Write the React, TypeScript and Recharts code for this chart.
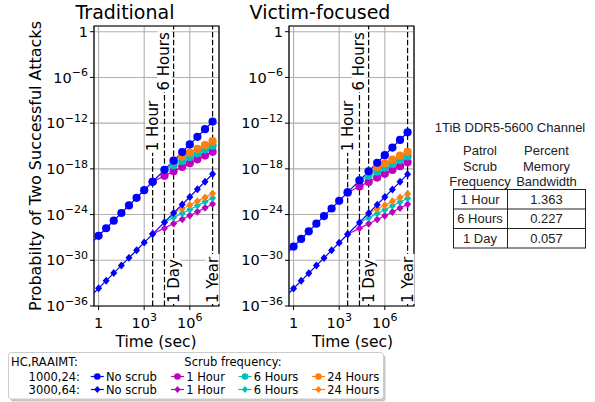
import React from 'react';
import { LineChart, Line, XAxis, YAxis, CartesianGrid, ReferenceLine, ReferenceArea } from 'recharts';

// ---- data ----
const timeSec = [0.316, 1, 3.16, 10, 31.6, 100, 316, 1000, 3600, 21600, 86400, 316000, 1e6, 3.16e6, 1e7, 3.15e7];
const xTicks = [1, 1e3, 1e6];
const yTicks = [1e-36, 1e-30, 1e-24, 1e-18, 1e-12, 1e-6, 1];
const xDomain = [0.501, 8.32e7];
const yDomain = [1e-36, 5.62];

const seriesNames = ['No scrub', '1 Hour', '6 Hours', '24 Hours'];
const seriesColors = ['#0000ff', '#bf00bf', '#00bfbf', '#ff7f0e'];
const configNames = ['1000,24:', '3000,64:'];

const N = null;
// Traditional, HC/RAAIMT 1000,24 (circles)
const tradNoScrub24 = [1.6e-28, 1.6e-27, 1.6e-26, 1.6e-25, 1.6e-24, 1.6e-23, 1.6e-22, 1.6e-21, 2.0e-20, 7.4e-19, 1.2e-17, 1.6e-16, 1.6e-15, 1.6e-14, 1.6e-13, 1.6e-12];
const tradHour24 = [N, N, N, N, N, N, N, N, 2.0e-20, 1.2e-19, 4.9e-19, 1.8e-18, 5.6e-18, 1.8e-17, 5.6e-17, 1.8e-16];
const tradSix24 = [N, N, N, N, N, N, N, N, N, 7.4e-19, 3.0e-18, 1.1e-17, 3.5e-17, 1.1e-16, 3.5e-16, 1.1e-15];
const tradDay24 = [N, N, N, N, N, N, N, N, N, N, 1.2e-17, 4.3e-17, 1.35e-16, 4.3e-16, 1.35e-15, 4.3e-15];
// Traditional, 3000,64 (diamonds)
const tradNoScrub64 = [2.1e-35, 2.1e-34, 2.1e-33, 2.1e-32, 2.1e-31, 2.1e-30, 2.1e-29, 2.1e-28, 2.75e-27, 1.0e-25, 1.6e-24, 2.1e-23, 2.1e-22, 2.1e-21, 2.1e-20, 2.1e-19];
const tradHour64 = [N, N, N, N, N, N, N, N, 2.75e-27, 1.66e-26, 6.6e-26, 2.4e-25, 7.6e-25, 2.4e-24, 7.6e-24, 2.4e-23];
const tradSix64 = [N, N, N, N, N, N, N, N, N, 1.0e-25, 4.0e-25, 1.5e-24, 4.7e-24, 1.5e-23, 4.7e-23, 1.5e-22];
const tradDay64 = [N, N, N, N, N, N, N, N, N, N, 1.6e-24, 5.8e-24, 1.8e-23, 5.8e-23, 1.8e-22, 5.8e-22];
// Victim-focused, 1000,24 (circles)
const vicNoScrub24 = [6.3e-30, 6.3e-29, 6.3e-28, 6.3e-27, 6.3e-26, 6.3e-25, 6.3e-24, 6.3e-23, 8.1e-22, 3.0e-20, 4.7e-19, 6.3e-18, 6.3e-17, 6.3e-16, 6.3e-15, 6.3e-14];
const vicHour24 = [N, N, N, N, N, N, N, N, 8.1e-22, 4.9e-21, 1.95e-20, 7.1e-20, 2.2e-19, 7.1e-19, 2.2e-18, 7.1e-18];
const vicSix24 = [N, N, N, N, N, N, N, N, N, 3.0e-20, 1.2e-19, 4.4e-19, 1.4e-18, 4.4e-18, 1.4e-17, 4.4e-17];
const vicDay24 = [N, N, N, N, N, N, N, N, N, N, 4.7e-19, 1.7e-18, 5.4e-18, 1.7e-17, 5.4e-17, 1.7e-16];
// Victim-focused, 3000,64 (diamonds)
const vicNoScrub64 = [2.0e-35, 2.0e-34, 2.0e-33, 2.0e-32, 2.0e-31, 2.0e-30, 2.0e-29, 2.0e-28, 2.6e-27, 9.3e-26, 1.5e-24, 2.0e-23, 2.0e-22, 2.0e-21, 2.0e-20, 2.0e-19];
const vicHour64 = [N, N, N, N, N, N, N, N, 2.6e-27, 1.55e-26, 6.2e-26, 2.2e-25, 7.1e-25, 2.2e-24, 7.1e-24, 2.2e-23];
const vicSix64 = [N, N, N, N, N, N, N, N, N, 9.3e-26, 3.7e-25, 1.4e-24, 4.4e-24, 1.4e-23, 4.4e-23, 1.4e-22];
const vicDay64 = [N, N, N, N, N, N, N, N, N, N, 1.5e-24, 5.4e-24, 1.7e-23, 5.4e-23, 1.7e-22, 5.4e-22];

const markTimes = [3600, 21600, 86400, 3.15e7];
const markLabels = ['1 Hour', '6 Hours', '1 Day', '1 Year'];
const markTops = [1e-9, 1, 5.62, 5.62];

const tableTitle = '1TiB DDR5-5600 Channel';
const tableHeadA = ['Patrol', 'Scrub', 'Frequency'];
const tableHeadB = ['Percent', 'Memory', 'Bandwidth'];
const tableFreq = ['1 Hour', '6 Hours', '1 Day'];
const tableBw = ['1.363', '0.227', '0.057'];

// ---- presentation ----
const FONT = "'DejaVu Sans', sans-serif";
const TFONT = "'Liberation Sans', Arial, sans-serif";
const labelLen: Record<string, number> = { '1 Hour': 51, '6 Hours': 59, '1 Day': 44, '1 Year': 48 };

const build = (vals: (number | null)[]) =>
  timeSec.map((t, i) => ({ t, p: vals[i] })).filter((d) => d.p != null);

const XTick = (props: any) => {
  const { x, y, payload } = props;
  const e = Math.round(Math.log10(payload.value));
  return (
    <text x={x} y={y + 15.5} textAnchor="middle" fontSize={14.5} fill="#000" fontFamily={FONT}>
      {e === 0 ? '1' : (<>10<tspan dy={-6.5} fontSize={11}>{String(e)}</tspan></>)}
    </text>
  );
};

const YTick = (props: any) => {
  const { x, y, payload } = props;
  const e = Math.round(Math.log10(payload.value));
  return (
    <text x={x} y={y + 5.2} textAnchor="end" fontSize={14.5} fill="#000" fontFamily={FONT}>
      {e === 0 ? '1' : (<>10<tspan dy={-6.5} fontSize={11}>{'\u2212' + Math.abs(e)}</tspan></>)}
    </text>
  );
};

const circleDot = (color: string, name: string) => (p: any) => {
  const k = `${name}-${p.index}`;
  if (p.cx == null || p.payload.t < 1) return <g key={k} />;
  return <circle key={k} cx={p.cx} cy={p.cy} r={4.1} fill={color} />;
};
const diamondDot = (color: string, name: string) => (p: any) => {
  const k = `${name}-${p.index}`;
  if (p.cx == null || p.payload.t < 1) return <g key={k} />;
  const { cx, cy } = p;
  return <polygon key={k} points={`${cx},${cy - 4} ${cx + 3.5},${cy} ${cx},${cy + 4} ${cx - 3.5},${cy}`} fill={color} />;
};

// draws the dashed segment (from the segment's own viewBox) plus its boxed, rotated label
const renderVLabel = (text: string, atTop: boolean) => (props: any) => {
  const vb = props.viewBox || {};
  const x = vb.x ?? 0;
  const top = vb.y ?? 0;
  const bottom = top + (vb.height ?? 0);
  const len = labelLen[text];
  const anchorY = atTop ? top + 0.5 : bottom - 3;
  const y0 = atTop ? anchorY - 1 : anchorY - len - 1;
  const y1 = atTop ? anchorY + len + 1 : anchorY + 1;
  return (
    <g>
      <line x1={x} x2={x} y1={bottom} y2={top} stroke="#000" strokeWidth={1.2} strokeDasharray="5.5 2.4" />
      <rect x={x - 7} y={y0} width={14} height={y1 - y0} fill="#fff" />
      <text transform={`translate(${x},${anchorY}) rotate(-90)`} textAnchor={atTop ? 'end' : 'start'}
        dominantBaseline="central" fontSize={15} fill="#000" fontFamily={FONT}>{text}</text>
    </g>
  );
};

function Panel({ left, circles, diamonds, id }: any) {
  const order = [1, 2, 3, 0];
  return (
    <div style={{ position: 'absolute', left, top: 0 }}>
      <LineChart width={230} height={360} margin={{ top: 26, right: 11, bottom: 0, left: 0 }}>
        <CartesianGrid stroke="#b0b0b0" strokeWidth={1.1} />
        <XAxis dataKey="t" type="number" scale="log" domain={xDomain} allowDataOverflow ticks={xTicks}
          interval={0} tick={(p: any) => <XTick {...p} />} tickSize={4} tickLine={{ stroke: '#000' }}
          axisLine={false} height={54} />
        <YAxis type="number" scale="log" domain={yDomain} allowDataOverflow ticks={yTicks}
          interval={0} tick={(p: any) => <YTick {...p} />} tickSize={4} tickLine={{ stroke: '#000' }}
          axisLine={false} width={94} />
        {markTimes.map((t, i) => (
          <ReferenceLine key={`m${i}`} segment={[{ x: t, y: yDomain[0] }, { x: t, y: markTops[i] }]}
            stroke="none" strokeWidth={0} ifOverflow="visible"
            label={renderVLabel(markLabels[i], i < 2)} />
        ))}
        {order.map((k) => (
          <Line key={`c${k}`} data={build(circles[k])} dataKey="p" stroke={seriesColors[k]} strokeWidth={1.2}
            dot={circleDot(seriesColors[k], `${id}c${k}`)} activeDot={false} isAnimationActive={false} />
        ))}
        {order.map((k) => (
          <Line key={`d${k}`} data={build(diamonds[k])} dataKey="p" stroke={seriesColors[k]} strokeWidth={1.2}
            dot={diamondDot(seriesColors[k], `${id}d${k}`)} activeDot={false} isAnimationActive={false} />
        ))}
        <ReferenceArea x1={xDomain[0]} x2={xDomain[1]} y1={yDomain[0]} y2={yDomain[1]} fill="none"
          fillOpacity={0} stroke="#000" strokeWidth={1.2} ifOverflow="visible" />
      </LineChart>
    </div>
  );
}

const legendX = [97.3, 177.5, 245, 318.5];

function Overlay() {
  const rowY = [376.5, 389.5];
  const tTop = 189.5;
  const rowH = 19.5;
  return (
    <svg width={595} height={402} style={{ position: 'absolute', left: 0, top: 0 }}>
      <text x={125} y={18.8} textAnchor="middle" fontSize={19} fontFamily={FONT}>Traditional</text>
      <text x={320} y={18.8} textAnchor="middle" fontSize={19} fontFamily={FONT}>Victim-focused</text>
      <text transform="translate(35,166) rotate(-90)" textAnchor="middle" dominantBaseline="central"
        fontSize={16} fontFamily={FONT}>Probabilty of Two Successful Attacks</text>
      <text x={156} y={347} textAnchor="middle" fontSize={15.5} fontFamily={FONT}>Time (sec)</text>
      <text x={352.5} y={347} textAnchor="middle" fontSize={15.5} fontFamily={FONT}>Time (sec)</text>

      {/* legend */}
      <rect x={10.5} y={355} width={375} height={46.5} rx={3} fill="#999" opacity={0.55} />
      <rect x={8.5} y={352.5} width={375} height={46.5} rx={3} fill="#fff" stroke="#ccc" strokeWidth={1} />
      <text x={11} y={366} fontSize={11.5} fontFamily={FONT}>HC,RAAIMT:</text>
      <text x={233} y={366} textAnchor="middle" fontSize={11.5} fontFamily={FONT}>Scrub frequency:</text>
      {configNames.map((c, r) => (
        <g key={c}>
          <text x={80} y={rowY[r] + 4} textAnchor="end" fontSize={11.5} fontFamily={FONT}>{c}</text>
          {seriesNames.map((s, k) => {
            const cx = legendX[k];
            const cy = rowY[r];
            return (
              <g key={s}>
                <line x1={cx - 6.5} x2={cx + 6.5} y1={cy} y2={cy} stroke={seriesColors[k]} strokeWidth={1.2} />
                {r === 0 ? (
                  <circle cx={cx} cy={cy} r={3.3} fill={seriesColors[k]} />
                ) : (
                  <polygon points={`${cx},${cy - 3.6} ${cx + 3.1},${cy} ${cx},${cy + 3.6} ${cx - 3.1},${cy}`} fill={seriesColors[k]} />
                )}
                <text x={cx + 8.7} y={cy + 4} fontSize={11.5} fontFamily={FONT}>{s}</text>
              </g>
            );
          })}
        </g>
      ))}

      {/* table */}
      <g fontFamily={TFONT} fontSize={13} fill="#222">
        <text x={510} y={132} textAnchor="middle">{tableTitle}</text>
        {tableHeadA.map((t, i) => (
          <text key={t} x={480} y={155 + i * 15.5} textAnchor="middle">{t}</text>
        ))}
        {tableHeadB.map((t, i) => (
          <text key={t} x={546.5} y={155 + i * 15.5} textAnchor="middle">{t}</text>
        ))}
        {tableFreq.map((t, i) => (
          <g key={t}>
            <text x={480} y={tTop + i * rowH + 14.3} textAnchor="middle">{t}</text>
            <text x={546.5} y={tTop + i * rowH + 14.3} textAnchor="middle">{tableBw[i]}</text>
          </g>
        ))}
      </g>
      <g stroke="#222" strokeWidth={1} fill="none">
        <rect x={453.5} y={tTop} width={132} height={rowH * 3} />
        <line x1={453.5} x2={585.5} y1={tTop + rowH} y2={tTop + rowH} />
        <line x1={453.5} x2={585.5} y1={tTop + 2 * rowH} y2={tTop + 2 * rowH} />
        <line x1={507.5} x2={507.5} y1={tTop} y2={tTop + rowH * 3} />
      </g>
    </svg>
  );
}

export default function App() {
  return (
    <div style={{ position: 'absolute', left: 0, top: 0, width: 595, height: 402, background: '#fff', overflow: 'hidden' }}>
      <Overlay />
      <Panel id="L" left={0}
        circles={[tradNoScrub24, tradHour24, tradSix24, tradDay24]}
        diamonds={[tradNoScrub64, tradHour64, tradSix64, tradDay64]} />
      <Panel id="R" left={195}
        circles={[vicNoScrub24, vicHour24, vicSix24, vicDay24]}
        diamonds={[vicNoScrub64, vicHour64, vicSix64, vicDay64]} />
    </div>
  );
}
